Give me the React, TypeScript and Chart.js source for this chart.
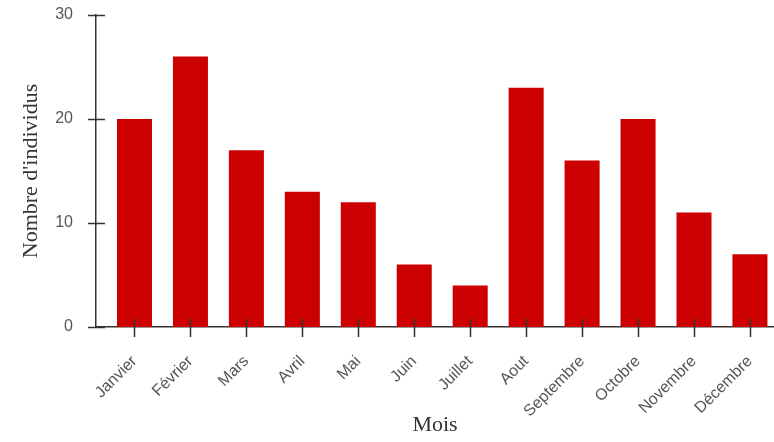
import React, { useEffect, useRef } from "react";
import { Chart, registerables } from "chart.js";

Chart.register(...registerables);

const months = ["Janvier", "Février", "Mars", "Avril", "Mai", "Juin", "Juillet", "Aout", "Septembre", "Octobre", "Novembre", "Décembre"];
const counts = [20, 26, 17, 13, 12, 6, 4, 23, 16, 20, 11, 7];
const yTicks = [0, 10, 20, 30];

const crossTicks = {
  id: "crossTicks",
  afterDraw(chart: any) {
    const ctx = chart.ctx;
    const xs = chart.scales.x;
    const ys = chart.scales.y;
    ctx.save();
    ctx.strokeStyle = "#333";
    ctx.lineWidth = 1.5;
    ctx.beginPath();
    xs.ticks.forEach((_t: any, i: number) => {
      const px = Math.round(xs.getPixelForTick(i)) + 0.5;
      ctx.moveTo(px, ys.bottom - 8);
      ctx.lineTo(px, ys.bottom + 10);
    });
    ys.ticks.forEach((_t: any, i: number) => {
      const py = Math.round(ys.getPixelForTick(i)) + 0.5;
      ctx.moveTo(xs.left - 8, py);
      ctx.lineTo(xs.left + 9, py);
    });
    ctx.stroke();
    ctx.restore();
  },
};

export default function App() {
  const ref = useRef<HTMLCanvasElement>(null);
  useEffect(() => {
    if (!ref.current) return;
    const chart = new Chart(ref.current, {
      type: "bar",
      data: {
        datasets: [
          {
            data: counts.map((v, i) => ({ x: i, y: v })),
            backgroundColor: "#cc0000",
            borderWidth: 0,
            barPercentage: 0.626,
            categoryPercentage: 1,
          },
        ],
      },
      options: {
        animation: false,
        responsive: false,
        maintainAspectRatio: false,
        layout: { autoPadding: false, padding: { top: 15, right: 0, left: 0, bottom: 0 } },
        plugins: { legend: { display: false }, tooltip: { enabled: false } },
        scales: {
          x: {
            type: "linear",
            offset: false,
            min: -0.688,
            max: 11.43,
            afterBuildTicks(scale: any) {
              scale.ticks = months.map((_m, i) => ({ value: i }));
            },
            afterFit(scale: any) {
              scale.height = 115;
              scale.paddingLeft = 0;
              scale.paddingRight = 0;
            },
            grid: { display: false, offset: false },
            border: { display: true, color: "#333", width: 1.5 },
            ticks: {
              autoSkip: false,
              maxRotation: 45,
              minRotation: 45,
              padding: 17,
              color: "#555",
              font: { family: "'Liberation Sans', Arial, sans-serif", size: 16 },
              callback: (v: any) => months[v] ?? "",
            },
            title: {
              display: true,
              text: "Mois",
              color: "#333",
              font: { family: "'Liberation Serif', 'DejaVu Serif', serif", size: 22 },
              padding: { top: 0, bottom: 4 },
            },
          },
          y: {
            min: 0,
            max: 30,
            afterBuildTicks(scale: any) {
              scale.ticks = yTicks.map((v) => ({ value: v }));
            },
            afterFit(scale: any) {
              scale.width = 96;
              scale.paddingTop = 0;
              scale.paddingBottom = 0;
            },
            grid: { display: false },
            border: { display: true, color: "#333", width: 1.5 },
            ticks: {
              padding: 15,
              color: "#555",
              font: { family: "'Liberation Sans', Arial, sans-serif", size: 16 },
            },
            title: {
              display: true,
              text: "Nombre d'individus",
              color: "#333",
              font: { family: "'Liberation Serif', 'DejaVu Serif', serif", size: 22 },
              padding: { top: 18, bottom: 0 },
            },
          },
        },
      },
      plugins: [crossTicks],
    } as any);
    return () => chart.destroy();
  }, []);
  return (
    <div style={{ position: "fixed", left: 0, top: 0, width: 774, height: 442, background: "#fff" }}>
      <canvas ref={ref} width={774} height={442} style={{ width: 774, height: 442, display: "block" }} />
    </div>
  );
}
